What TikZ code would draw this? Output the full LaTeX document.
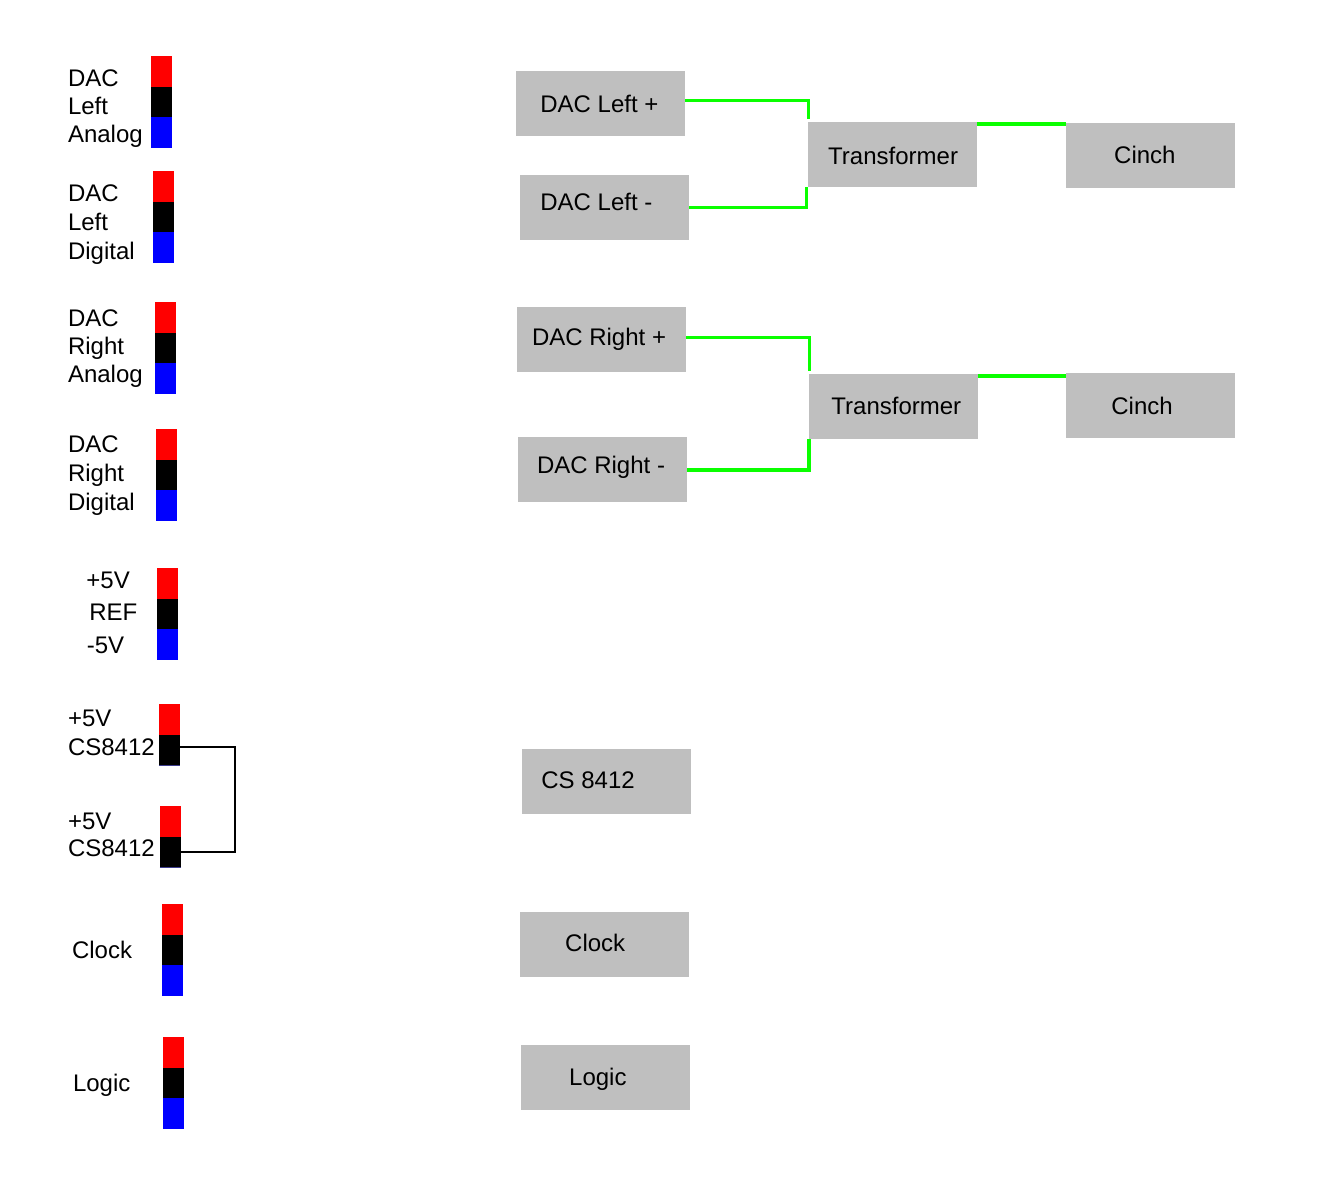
\documentclass[tikz,border=0pt]{standalone}
\usepackage{fontspec}
\setmainfont{Liberation Sans}
\definecolor{boxgray}{RGB}{191,191,191}
\definecolor{wiregreen}{RGB}{10,255,0}
\definecolor{pinred}{RGB}{255,0,0}
\definecolor{pinblue}{RGB}{0,0,255}
\definecolor{pinnavy}{RGB}{60,60,140}
\newcommand{\pinstack}[4]{%
  % #1 name, #2 centre x, #3 top y, #4 number of squares (2 or 3)
  \node[pin,fill=pinred] (#1r) at (#2,#3+15.25) {};
  \node[pin,fill=black]  (#1k) at (#2,#3+45.75) {};
  \ifnum#4>2 \node[pin,fill=pinblue] (#1b) at (#2,#3+76.25) {};\fi
}
\begin{document}
\begin{tikzpicture}[x=1pt,y=-1pt,
  box/.style={fill=boxgray, inner sep=0, minimum width=169, minimum height=64.5},
  txt/.style={inner sep=0, anchor=base west, font=\fontsize{24}{28}\selectfont},
  pin/.style={inner sep=0, minimum width=21, minimum height=30.5},
  gline/.style={draw=wiregreen, line width=3},
  kwire/.style={draw=black, line width=2.5}]
\useasboundingbox[fill=white] (0,0) rectangle (1319,1195);

% ---------- left connector stacks ----------
\pinstack{pa}{161.5}{56}{3}
\pinstack{pb}{163.5}{171}{3}
\pinstack{pc}{165.5}{302}{3}
\pinstack{pd}{166.5}{429}{3}
\pinstack{pe}{167.5}{568}{3}
\pinstack{pf}{169.5}{704}{2}
\pinstack{pg}{170.5}{806}{2}
\pinstack{ph}{172.5}{904}{3}
\pinstack{pi}{173.5}{1037}{3}
\draw[pinnavy, line width=1] (pfk.south west) -- (pfk.south east);
\draw[pinnavy, line width=1] (pgk.south west) -- (pgk.south east);

% ---------- left labels ----------
\node[txt] (la1) at (67.8,86)    {DAC};
\node[txt] (la2) at (67.8,114.3) {Left};
\node[txt] (la3) at (67.8,142.3) {Analog};
\node[txt] (lb1) at (67.8,201.7) {DAC};
\node[txt] (lb2) at (67.8,230)   {Left};
\node[txt] (lb3) at (67.8,259.3) {Digital};
\node[txt] (lc1) at (67.8,326)   {DAC};
\node[txt] (lc2) at (67.8,354.3) {Right};
\node[txt] (lc3) at (67.8,382.7) {Analog};
\node[txt] (ld1) at (67.8,452.7) {DAC};
\node[txt] (ld2) at (67.8,481.7) {Right};
\node[txt] (ld3) at (67.8,510)   {Digital};
\node[txt] (le1) at (86.2,588.3) {+5V};
\node[txt] (le2) at (89.2,620)   {REF};
\node[txt] (le3) at (86.7,653.3) {-5V};
\node[txt] (lf1) at (67.8,726.7) {+5V};
\node[txt] (lf2) at (67.8,755)   {CS8412};
\node[txt] (lg1) at (67.8,829.3) {+5V};
\node[txt] (lg2) at (67.8,856.7) {CS8412};
\node[txt] (lh1) at (71.8,958.3) {Clock};
\node[txt] (li1) at (72.8,1091)  {Logic};

% black wire between the two CS8412 stacks
\coordinate (wx) at (235,800);
\draw[kwire] ([yshift=2.75]pfk.east) -| (wx) |- (pgk.east);

% ---------- grey boxes ----------
\node[box] (dlp) at (600.5,103.5) {};
\node[box] (dlm) at (604.5,207.5) {};
\node[box] (tr1) at (892.5,154.5) {};
\node[box] (ci1) at (1150.5,155.3) {};
\node[box] (drp) at (601.5,339.5) {};
\node[box] (drm) at (602.3,469.5) {};
\node[box] (tr2) at (893.5,406.3) {};
\node[box] (ci2) at (1150.5,405.5) {};
\node[box] (cs)  at (606.2,781.3) {};
\node[box] (clk) at (604.3,944.5) {};
\node[box] (lgc) at (605.3,1077.3) {};

\node[txt] (dlpT) at (540.2,112.3) {DAC Left +};
\node[txt] (dlmT) at (540.2,210.7) {DAC Left -};
\node[txt] (tr1T) at (828,164)     {Transformer};
\node[txt] (ci1T) at (1114,163.3)  {Cinch};
\node[txt] (drpT) at (531.8,345.7) {DAC Right +};
\node[txt] (drmT) at (536.8,473.3) {DAC Right -};
\node[txt] (tr2T) at (831.2,414)   {Transformer};
\node[txt] (ci2T) at (1111.2,414.3){Cinch};
\node[txt] (csT)  at (541.2,788.3) {CS 8412};
\node[txt] (clkT) at (565,951.7)   {Clock};
\node[txt] (lgcT) at (569,1085)    {Logic};

% ---------- green wires ----------
\draw[gline] ([yshift=3.5]dlp.east) -| ([xshift=1,yshift=3]tr1.north west);
\draw[gline] (dlm.east) -| ([xshift=-1]tr1.south west);
\draw[gline] ([yshift=2.2]drp.east) -| ([xshift=1,yshift=3]tr2.north west);
\draw[gline, line width=4] (drm.east) -| (tr2.south west);
\coordinate (t1a) at ([yshift=-2]tr1.north east);
\draw[gline, line width=4] (t1a) -- (t1a -| ci1.west);
\coordinate (t2a) at ([yshift=-1.7]tr2.north east);
\draw[gline, line width=4] (t2a) -- (t2a -| ci2.west);
\end{tikzpicture}
\end{document}
